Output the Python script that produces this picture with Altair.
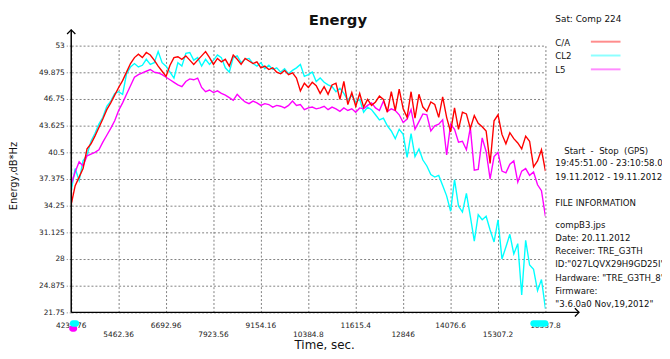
import altair as alt
import pandas as pd

# ---------------- data ----------------
time_s = [4232, 4334, 4437, 4539, 4642, 4745, 4847, 4950, 5052, 5155,
          5257, 5360, 5462, 5565, 5667, 5770, 5873, 5975, 6078, 6180,
          6283, 6385, 6488, 6590, 6693, 6795, 6898, 7000, 7103, 7206,
          7308, 7411, 7513, 7616, 7718, 7821, 7923, 8026, 8128, 8231,
          8334, 8436, 8539, 8641, 8744, 8846, 8949, 9051, 9154, 9256,
          9359, 9462, 9564, 9667, 9769, 9872, 9974, 10077, 10179, 10282,
          10385, 10487, 10590, 10692, 10795, 10897, 11000, 11102, 11205, 11307,
          11410, 11513, 11615, 11718, 11820, 11923, 12025, 12128, 12230, 12333,
          12436, 12538, 12641, 12743, 12846, 12948, 13051, 13153, 13256, 13358,
          13461, 13564, 13666, 13769, 13871, 13974, 14077, 14179, 14282, 14384,
          14487, 14589, 14692, 14794, 14897, 14999, 15102, 15205, 15307, 15410,
          15512, 15615, 15717, 15820, 15922, 16025, 16127, 16230, 16333, 16435,
          16538]

ca = [34.4, 36.6, 37.6, 38.6, 40.9, 41.5, 42.4, 43.4, 44.4, 45.5,
      46.3, 47.2, 48.1, 48.9, 49.9, 50.9, 51.6, 52.0, 51.6, 52.2,
      51.9, 51.3, 50.6, 50.0, 49.4, 50.7, 51.6, 51.7, 51.4, 51.8,
      51.3, 50.8, 51.3, 51.8, 52.3, 51.6, 50.8, 51.5, 51.1, 51.4,
      50.6, 51.9, 51.4, 50.8, 51.5, 51.2, 50.9, 51.1, 50.4, 50.6,
      50.2, 50.4, 49.9, 49.7, 50.1, 49.6, 49.8, 49.2, 47.7, 48.6,
      48.1, 48.7, 48.3, 47.4, 48.2, 47.3, 48.4, 48.6, 46.7, 48.8,
      46.1, 47.5, 45.9, 47.4, 45.8, 46.7, 46.0, 46.4, 47.1, 46.7,
      45.2, 47.6, 45.4, 47.9, 45.6, 44.6, 47.6, 44.5, 47.3, 45.8,
      45.3, 46.4, 46.1, 44.6, 47.0, 44.6, 42.9, 45.7, 43.2, 45.2,
      45.0, 43.3, 44.8, 43.9, 43.5, 43.0, 39.2, 44.2, 44.9, 42.6,
      41.5, 42.8, 42.1, 41.6, 40.9, 42.4, 41.8, 38.8, 39.5, 40.8,
      38.3]

cl2 = [36.0, 38.6, 37.2, 39.5, 40.2, 41.8, 42.7, 43.8, 44.6, 45.9,
       46.5, 47.4, 47.6, 47.3, 49.7, 50.5, 50.9, 50.5, 50.7, 51.4,
       50.8, 51.0, 52.3, 51.0, 50.6, 49.9, 49.2, 51.0, 50.6, 52.1,
       52.2, 51.3, 51.6, 50.6, 51.4, 50.8, 51.3, 51.9, 51.6, 50.4,
       49.9, 51.6, 51.8, 51.0, 51.4, 51.5, 50.9, 50.6, 51.0, 50.3,
       50.7, 50.2, 50.4, 49.9, 50.3, 49.7, 50.1, 50.4, 50.8, 49.4,
       49.6, 49.9, 48.8, 49.2, 48.7, 48.4, 48.2, 47.6, 48.0, 47.4,
       46.6, 47.2, 46.4, 46.7, 45.2, 45.8, 45.5, 44.9, 44.3, 44.5,
       43.6, 43.0, 42.1, 43.2, 42.6, 39.9, 42.7, 40.0, 40.9, 39.6,
       38.9, 37.9, 37.6, 37.8, 36.6, 35.4, 33.6, 37.3, 34.2, 33.5,
       35.7, 33.0, 30.1, 33.2, 32.6, 33.0, 31.4, 30.0, 32.6, 28.0,
       29.4, 30.9, 28.6, 29.8, 23.8, 30.2, 27.3, 26.8, 24.3, 25.6,
       22.2]

l5 = [36.8, 38.2, 39.4, 38.9, 40.1, 40.3, 40.5, 40.8, 41.7, 42.5,
      43.3, 44.2, 45.4, 46.3, 47.3, 48.3, 49.3, 49.6, 49.8, 50.0,
      50.2, 49.9, 49.8, 49.6, 49.3, 49.0, 48.7, 48.4, 48.2, 48.8,
      49.1, 49.0, 49.2, 48.1, 47.6, 47.8, 47.5, 47.7, 47.4, 47.2,
      46.9, 46.6, 47.3, 46.8, 46.4, 46.2, 46.5, 46.3, 46.0, 46.2,
      46.1, 45.8, 46.0, 45.9, 45.7, 46.0, 46.5, 46.0, 46.1, 45.5,
      45.7, 45.8, 45.6, 45.7, 45.9, 45.5, 45.8, 45.6, 45.3, 45.7,
      45.4, 45.6, 45.2, 45.7, 45.6, 46.0, 46.3, 45.7, 45.4, 46.5,
      45.3, 45.6, 45.4, 44.9, 44.0, 44.4, 45.5, 43.2, 44.1, 45.0,
      44.9, 43.0, 43.6, 43.8, 44.3, 40.2, 43.8, 43.2, 41.7, 41.8,
      40.8, 43.4, 38.4, 38.5, 42.2, 40.6, 37.4, 40.0, 40.5, 38.3,
      38.1, 39.1, 39.5, 37.0, 38.3, 38.6, 37.8, 38.2, 36.7, 36.0,
      33.0]

series_names = ["C/A", "CL2", "L5"]
series_colors = ["#ff0000", "#00ffff", "#ff00ff"]

x_ticks = [4231.76, 5462.36, 6692.96, 7923.56, 9154.16, 10384.8,
           11615.4, 12846, 14076.6, 15307.2, 16537.8]
x_labels = ["4231.76", "5462.36", "6692.96", "7923.56", "9154.16", "10384.8",
            "11615.4", "12846", "14076.6", "15307.2", "16537.8"]
y_ticks = [21.75, 24.875, 28, 31.125, 34.25, 37.375, 40.5, 43.625, 46.75, 49.875, 53]

NB = "\u00a0"
info_lines = ["Start" + NB * 2 + "-" + NB * 2 + "Stop" + NB * 2 + "(GPS)",
              "19:45:51.00 - 23:10:58.00",
              "19.11.2012 - 19.11.2012",
              "FILE INFORMATION",
              "compB3.jps",
              "Date: 20.11.2012",
              "Receiver: TRE_G3TH",
              "ID:\"027LQVX29H9GD25I\"",
              "Hardware: \"TRE_G3TH_8\"",
              "Firmware:",
              "\"3.6.0a0 Nov,19,2012\""]

# ---------------- layout ----------------
W, H = 480, 270
FONT = "DejaVu Sans"
GRID = "#808080"

df = pd.DataFrame({"t": time_s, "C/A": ca, "CL2": cl2, "L5": l5})
long = df.melt(id_vars="t", var_name="series", value_name="e")

xs = alt.Scale(domain=[x_ticks[0], x_ticks[-1]], nice=False, zero=False)
ys = alt.Scale(domain=[y_ticks[0], y_ticks[-1]], nice=False, zero=False)

x_axis = alt.Axis(values=x_ticks, labels=False, ticks=False, domain=False,
                  grid=True, gridDash=[2, 2], gridColor=GRID, gridWidth=1, title=None)
y_axis = alt.Axis(values=y_ticks, labelExpr="'' + datum.value", domain=False, grid=True,
                  gridDash=[2, 2], gridColor=GRID, gridWidth=1,
                  ticks=True, tickSize=5, tickDash=[2, 2], tickColor=GRID,
                  labelPadding=2, labelFont=FONT, labelFontSize=7.5,
                  labelColor="#222222", title=None)

one = pd.DataFrame({"a": [0]})

line_layers = []
for name, col in [("CL2", "#00ffff"), ("L5", "#ff00ff"), ("C/A", "#ff0000")]:
    line_layers.append(
        alt.Chart(long).transform_filter(alt.datum.series == name)
        .mark_line(color=col, strokeWidth=1.4, clip=True)
        .encode(x=alt.X("t:Q", scale=xs, axis=x_axis),
                y=alt.Y("e:Q", scale=ys, axis=y_axis))
    )

# axis lines with arrows
y_axis_line = alt.Chart(one).mark_rule(color="black", strokeWidth=1.5).encode(
    x=alt.value(0), y=alt.value(-16), y2=alt.value(H))
x_axis_line = alt.Chart(one).mark_rule(color="black", strokeWidth=1.5).encode(
    x=alt.value(0), x2=alt.value(W + 34), y=alt.value(H))
x_arrow = alt.Chart(one).mark_point(shape="M-1,-1L0,0L-1,1", filled=False, size=70,
                                    color="black", strokeWidth=1.3, opacity=1).encode(
    x=alt.value(W + 34), y=alt.value(H))
y_arrow = alt.Chart(one).mark_point(shape="M-1,1L0,0L1,1", filled=False, size=70,
                                    color="black", strokeWidth=1.3, opacity=1).encode(
    x=alt.value(0), y=alt.value(-16))

# x tick labels in two staggered rows
ticks_df = pd.DataFrame({"v": x_ticks, "lab": x_labels, "row": [i % 2 for i in range(len(x_ticks))]})
xlab_top = alt.Chart(ticks_df).transform_filter(alt.datum.row == 0).mark_text(
    font=FONT, fontSize=7.5, color="#222222", baseline="middle", align="center").encode(
    x=alt.X("v:Q", scale=xs, axis=x_axis), y=alt.value(H + 14), text="lab:N")
xlab_bot = alt.Chart(ticks_df).transform_filter(alt.datum.row == 1).mark_text(
    font=FONT, fontSize=7.5, color="#222222", baseline="middle", align="center").encode(
    x=alt.X("v:Q", scale=xs, axis=x_axis), y=alt.value(H + 23), text="lab:N")

# markers at the bottom of the time axis
mk = pd.DataFrame({"t0": [4180, 4198, 16146], "t1": [4386, 4437, 16615],
                   "kind": ["L5", "CL2", "CL2"]})
mk_l5 = alt.Chart(mk).transform_filter(alt.datum.kind == "L5").mark_rect(
    color="#ff00ff", cornerRadius=3).encode(
    x=alt.X("t0:Q", scale=xs, axis=x_axis), x2="t1:Q",
    y=alt.value(H + 13), y2=alt.value(H + 19.5))
mk_cl2 = alt.Chart(mk).transform_filter(alt.datum.kind == "CL2").mark_rect(
    color="#00ffff", cornerRadius=3).encode(
    x=alt.X("t0:Q", scale=xs, axis=x_axis), x2="t1:Q",
    y=alt.value(H + 8), y2=alt.value(H + 14.5))

def txt(s, x, y, size=8.7, align="left", angle=0, weight="normal"):
    return alt.Chart(one).mark_text(text=s, font=FONT, fontSize=size, align=align,
                                    baseline="middle", angle=angle, fontWeight=weight,
                                    color="#111111").encode(
        x=alt.value(x), y=alt.value(y))

texts = [
    txt("Energy", 270, -26, size=15, align="center", weight="bold"),
    txt("Sat: Comp 224", 490, -27, size=9),
    txt("Energy,dB*Hz", -57.5, 132, size=10, align="center", angle=270),
    txt("Time, sec.", 256.5, 303, size=12, align="center"),
]
leg_y = [-3, 11, 25]
for name, col, yy in zip(series_names, series_colors, leg_y):
    texts.append(txt(name, 490, yy))
    texts.append(alt.Chart(one).mark_rule(color=col, strokeWidth=2, opacity=0.45).encode(
        x=alt.value(526), x2=alt.value(556), y=alt.value(yy - 1)))

info_y = [106.5, 119, 132.7, 159.7, 181.3, 194.3, 207.7, 221, 235, 248, 261.8]
for i, (s, yy) in enumerate(zip(info_lines, info_y)):
    texts.append(txt(s, 499 if i == 0 else 490, yy))

chart = alt.layer(
    *line_layers, y_axis_line, x_axis_line, x_arrow, y_arrow,
    xlab_top, xlab_bot, mk_l5, mk_cl2, *texts
).properties(
    width=W, height=H,
    autosize=alt.AutoSizeParams(type="none"),
    padding={"left": 64, "top": 36, "right": 118, "bottom": 37},
    background="white",
).configure_view(strokeWidth=0)

chart.save("out.html", embed_options={"renderer": "svg", "actions": False})
